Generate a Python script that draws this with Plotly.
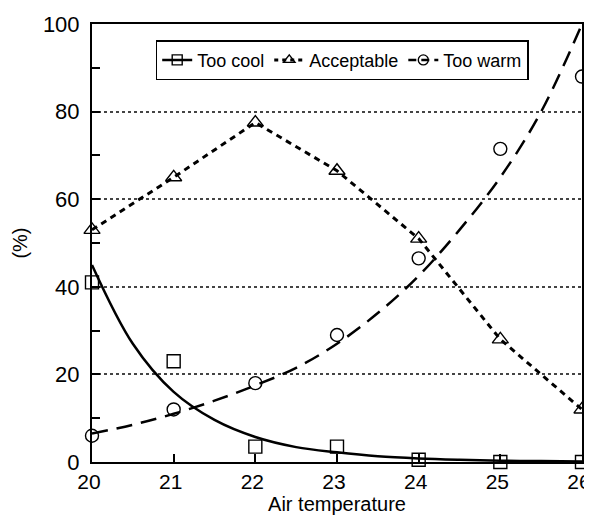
import plotly.graph_objects as go

# Observed data
temps = [20, 21, 22, 23, 24, 25, 26]
too_cool = [41, 23, 3.5, 3.5, 0.5, 0, 0]
acceptable = [53, 65, 77.5, 66.5, 51, 28, 12]
too_warm = [6, 12, 18, 29, 46.5, 71.5, 88]

# Fitted curves
fit_x = [20, 20.5, 21, 21.5, 22, 22.5, 23, 23.5, 24, 24.5, 25, 25.5, 26]
cool_fit = [45, 27, 16, 9.6, 5.7, 3.4, 2.2, 1.3, 0.8, 0.5, 0.3, 0.2, 0.1]
warm_fit = [6.5, 8.5, 11, 14, 17.5, 21.5, 27, 34, 42.5, 53, 65, 80, 100]

x_ticks = [20, 21, 22, 23, 24, 25, 26]
y_ticks = [0, 20, 40, 60, 80, 100]

FONT = "Liberation Sans, Arial, Helvetica, sans-serif"
mk = dict(color="black", line=dict(color="black", width=1.4))

fig = go.Figure()

# Too cool
fig.add_trace(go.Scatter(x=fit_x, y=cool_fit, mode="lines", line=dict(color="black", width=2.5, shape="spline"),
                         showlegend=False, hoverinfo="skip"))
fig.add_trace(go.Scatter(x=temps, y=too_cool, mode="markers", marker=dict(symbol="square-open", size=13, **mk),
                         showlegend=False, cliponaxis=False))
# Acceptable
fig.add_trace(go.Scatter(x=temps, y=acceptable, mode="lines+markers",
                         line=dict(color="black", width=3, dash="6px,5px"),
                         marker=dict(symbol="triangle-up-open", size=14, **mk),
                         showlegend=False, cliponaxis=False))
# Too warm
fig.add_trace(go.Scatter(x=fit_x, y=warm_fit, mode="lines", line=dict(color="black", width=2.5, dash="16px,9px", shape="spline"),
                         showlegend=False, hoverinfo="skip"))
fig.add_trace(go.Scatter(x=temps, y=too_warm, mode="markers", marker=dict(symbol="circle-open", size=13, **mk),
                         showlegend=False, cliponaxis=False))

# Legend entries
fig.add_trace(go.Scatter(x=[None], y=[None], mode="lines+markers", name="Too cool",
                         line=dict(color="black", width=2.5), marker=dict(symbol="square-open", size=10, **mk)))
fig.add_trace(go.Scatter(x=[None], y=[None], mode="lines+markers", name="Acceptable",
                         line=dict(color="black", width=3, dash="4px,4px"), marker=dict(symbol="triangle-up-open", size=10, **mk)))
fig.add_trace(go.Scatter(x=[None], y=[None], mode="lines+markers", name="Too warm",
                         line=dict(color="black", width=2.5, dash="8px,5px"), marker=dict(symbol="circle-open", size=10, **mk)))

axis_common = dict(showline=True, linecolor="black", linewidth=2, mirror=True, ticks="inside",
                   tickcolor="black", tickwidth=1.5, ticklen=8, zeroline=False, automargin=False,
                   ticklabeloverflow="allow")

fig.update_xaxes(range=[20, 26], tickvals=x_ticks, ticktext=[str(v) for v in x_ticks], showgrid=False,
                 ticklabelstandoff=0, ticklabelshift=-3,
                 tickfont=dict(family=FONT, size=21, color="black"),
                 title=dict(text="Air temperature", font=dict(family=FONT, size=20, color="black"), standoff=4),
                 **axis_common)
fig.update_yaxes(range=[0, 100], tickvals=y_ticks, ticktext=[str(v) for v in y_ticks],
                 showgrid=True, gridcolor="#444", griddash="dot", gridwidth=1.6,
                 ticklabelstandoff=6,
                 tickfont=dict(family=FONT, size=22, color="black"),
                 minor=dict(tickvals=[10, 30, 50, 70, 90], ticks="inside", ticklen=8, tickcolor="black", tickwidth=1.5, showgrid=False),
                 title=dict(text="(%)", font=dict(family=FONT, size=20, color="black"), standoff=10),
                 **axis_common)

# page body adds an 8px margin, so the figure is sized to fill the rest of the 592x524 window
fig.update_layout(
    width=584, height=516,
    margin=dict(l=84, r=10, t=16, b=62),
    paper_bgcolor="white", plot_bgcolor="white",
    font=dict(family=FONT, color="black"),
    legend=dict(orientation="h", x=0.13, y=0.963, xanchor="left", yanchor="top",
                bordercolor="black", borderwidth=1.5, bgcolor="white",
                font=dict(family=FONT, size=18, color="black"),
                itemwidth=30, tracegroupgap=0),
)

fig.write_html("out.html")
